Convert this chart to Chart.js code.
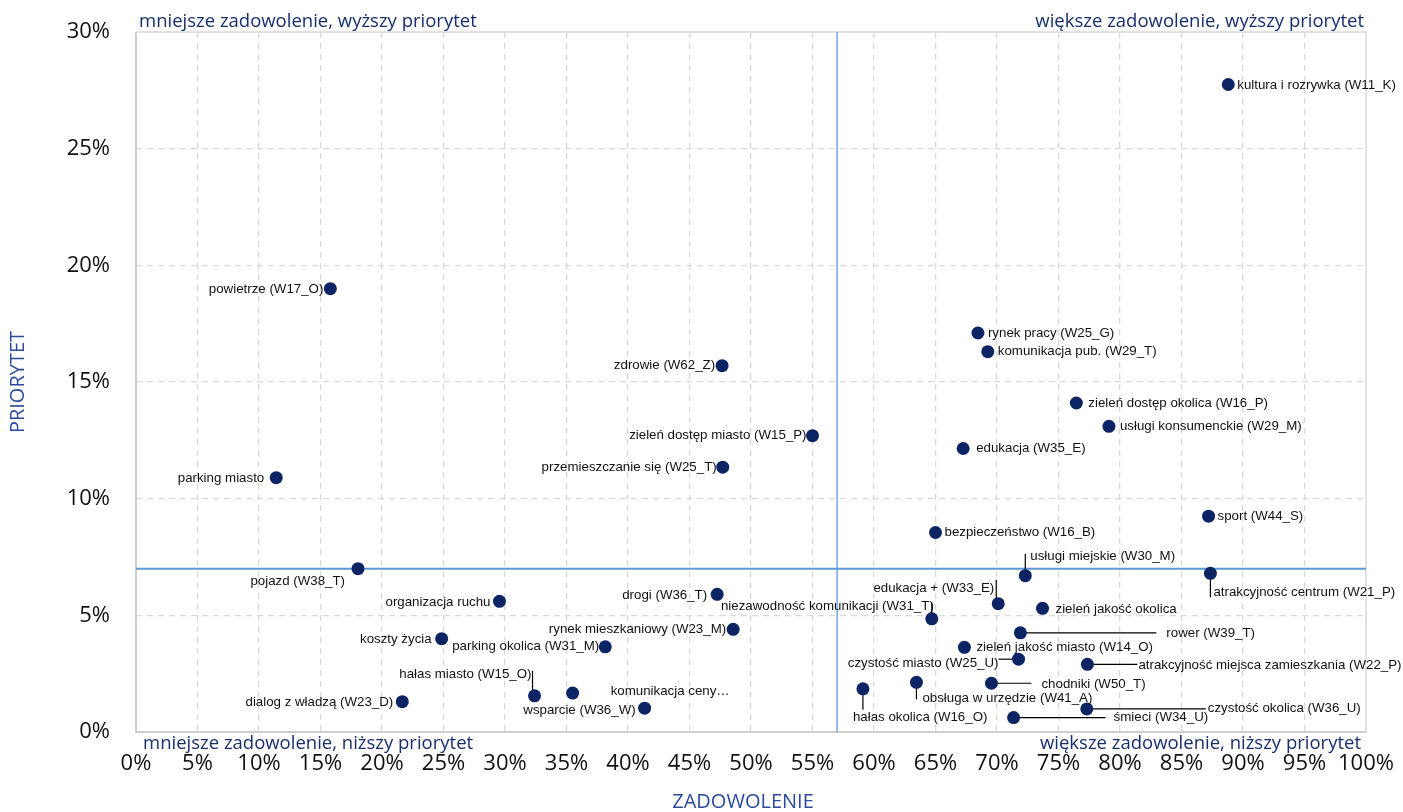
<!DOCTYPE html>
<html>
<head>
<meta charset="utf-8">
<script src="https://cdn.jsdelivr.net/npm/chart.js@4.4.1/dist/chart.umd.min.js"></script>
<style>
  html, body { margin: 0; padding: 0; background: #ffffff; }
  #wrap { width: 1403px; height: 812px; position: relative; }
</style>
</head>
<body>
<div id="wrap"><canvas id="c" width="1403" height="812"></canvas></div>
<script>
// ---- data ----
const CATEGORIES = [
  'kultura i rozrywka (W11_K)', 'powietrze (W17_O)', 'parking miasto', 'zdrowie (W62_Z)',
  'zieleń dostęp miasto (W15_P)', 'przemieszczanie się (W25_T)', 'rynek pracy (W25_G)',
  'komunikacja pub. (W29_T)', 'zieleń dostęp okolica (W16_P)', 'usługi konsumenckie (W29_M)',
  'edukacja (W35_E)', 'sport (W44_S)', 'bezpieczeństwo (W16_B)', 'pojazd (W38_T)',
  'usługi miejskie (W30_M)', 'atrakcyjność centrum (W21_P)', 'drogi (W36_T)', 'organizacja ruchu',
  'edukacja + (W33_E)', 'zieleń jakość okolica', 'niezawodność komunikacji (W31_T)',
  'rynek mieszkaniowy (W23_M)', 'rower (W39_T)', 'koszty życia', 'parking okolica (W31_M)',
  'zieleń jakość miasto (W14_O)', 'czystość miasto (W25_U)',
  'atrakcyjność miejsca zamieszkania (W22_P)', 'chodniki (W50_T)', 'obsługa w urzędzie (W41_A)',
  'hałas okolica (W16_O)', 'czystość okolica (W36_U)', 'śmieci (W34_U)', 'hałas miasto (W15_O)',
  'komunikacja ceny…', 'wsparcie (W36_W)', 'dialog z władzą (W23_D)'
];
const SATISFACTION = [
  88.8, 15.8, 11.4, 47.65, 55.0, 47.7, 68.45, 69.25, 76.45, 79.1,
  67.25, 87.2, 65.0, 18.05, 72.3, 87.35, 47.25, 29.55, 70.1, 73.7,
  64.7, 48.55, 71.9, 24.85, 38.15, 67.35, 71.75, 77.35, 69.55, 63.45,
  59.1, 77.3, 71.35, 32.4, 35.5, 41.35, 21.65
];
const PRIORITY = [
  27.75, 19.0, 10.9, 15.7, 12.7, 11.35, 17.1, 16.3, 14.1, 13.1,
  12.15, 9.25, 8.55, 7.0, 6.7, 6.8, 5.9, 5.6, 5.5, 5.3,
  4.85, 4.4, 4.25, 4.0, 3.65, 3.63, 3.12, 2.9, 2.09, 2.13,
  1.85, 0.99, 0.62, 1.55, 1.67, 1.02, 1.3
];
const X_TICKS = [0,5,10,15,20,25,30,35,40,45,50,55,60,65,70,75,80,85,90,95,100];
const Y_TICKS = [0,5,10,15,20,25,30];
const THRESHOLD_X = 57;
const THRESHOLD_Y = 7;
const QUADRANTS = {
  topLeft: 'mniejsze zadowolenie, wyższy priorytet',
  topRight: 'większe zadowolenie, wyższy priorytet',
  bottomLeft: 'mniejsze zadowolenie, niższy priorytet',
  bottomRight: 'większe zadowolenie, niższy priorytet'
};
const X_TITLE = 'ZADOWOLENIE';
const Y_TITLE = 'PRIORYTET';

// ---- label layout (pixel offsets from each point; align; optional leader line) ----
const LABEL_LAYOUT = [
  ['left', 9, 1], ['right', -7, 1], ['right', -12, 1], ['right', -7, 0],
  ['right', -6, 0], ['right', -6, 0], ['left', 10, 0], ['left', 10, 0],
  ['left', 12, 0], ['left', 11, 0], ['left', 13, 0], ['left', 9, 0],
  ['left', 9, 0], ['right', -13, 13],
  ['left', 5, -19, [0,-22,0,0]], ['left', 3, 19, [0,0,0,24]],
  ['right', -10, 1], ['right', -9, 1],
  ['right', -4, -15, [-2,-24,-2,0]], ['left', 13, 1],
  ['right', 2, -12, [0,-16,0,0]], ['right', -7, 0],
  ['left', 146, 1, [0,0,136,0]], ['right', -10, 1], ['right', -6, 0],
  ['left', 12, 0], ['right', -20, 4, [-20,0,0,0]],
  ['left', 51, 1, [0,0,50,0]], ['left', 50, 1, [0,0,40,0]],
  ['left', 6, 16, [0,0,0,17]], ['left', -10, 29, [0,0,0,21]],
  ['left', 121, -1, [0,0,119,0]], ['left', 100, 0, [0,0,92,0]],
  ['right', -3, -21, [-2,-25,-2,0]], ['left', 38, -2],
  ['right', -9, 2], ['right', -9, 1]
];

const POINTS = SATISFACTION.map((x, i) => ({ x: x, y: PRIORITY[i] }));

const NAVY = '#0c2463';
const QUAD_COLOR = '#182f6e';
const TITLE_COLOR = '#2a4b9b';
const REF_COLOR = '#5b9bd5';
const TICK_FONT = { family: 'Open Sans', size: 22 };

const annotationPlugin = {
  id: 'annotations',
  beforeDatasetsDraw(chart) {
    const { ctx, chartArea: a, scales: { x, y } } = chart;
    ctx.save();
    // frame
    ctx.lineWidth = 1.5;
    ctx.strokeStyle = '#d9d9d9';
    ctx.beginPath();
    ctx.moveTo(a.left, a.top); ctx.lineTo(a.right, a.top); ctx.lineTo(a.right, a.bottom);
    ctx.stroke();
    ctx.strokeStyle = '#bfbfbf';
    ctx.beginPath();
    ctx.moveTo(a.left, a.top); ctx.lineTo(a.left, a.bottom); ctx.lineTo(a.right, a.bottom);
    ctx.stroke();
    // reference lines
    const px = x.getPixelForValue(THRESHOLD_X);
    const py = y.getPixelForValue(THRESHOLD_Y);
    ctx.strokeStyle = REF_COLOR;
    ctx.lineWidth = 1.3;
    ctx.beginPath(); ctx.moveTo(px, a.top); ctx.lineTo(px, a.bottom); ctx.stroke();
    ctx.lineWidth = 2;
    ctx.beginPath(); ctx.moveTo(a.left, py); ctx.lineTo(a.right, py); ctx.stroke();
    // leader lines
    ctx.strokeStyle = '#000000';
    ctx.lineWidth = 1.2;
    POINTS.forEach((p, i) => {
      const L = LABEL_LAYOUT[i][3];
      if (!L) return;
      const cx = x.getPixelForValue(p.x), cy = y.getPixelForValue(p.y);
      ctx.beginPath();
      ctx.moveTo(cx + L[0], cy + L[1]);
      ctx.lineTo(cx + L[2], cy + L[3]);
      ctx.stroke();
    });
    ctx.restore();
  },
  afterDatasetsDraw(chart) {
    const { ctx, chartArea: a, scales: { x, y } } = chart;
    ctx.save();
    // point labels
    ctx.font = '13.3px "Liberation Sans", Arial, sans-serif';
    ctx.fillStyle = '#111111';
    ctx.textBaseline = 'middle';
    POINTS.forEach((p, i) => {
      const [align, dx, dy] = LABEL_LAYOUT[i];
      const cx = x.getPixelForValue(p.x), cy = y.getPixelForValue(p.y);
      ctx.textAlign = align;
      ctx.fillText(CATEGORIES[i], cx + dx, cy + dy);
    });
    // quadrant labels
    ctx.font = '18.5px "Open Sans", sans-serif';
    ctx.fillStyle = QUAD_COLOR;
    ctx.textAlign = 'left';
    ctx.fillText(QUADRANTS.topLeft, a.left + 3, a.top - 10);
    ctx.fillText(QUADRANTS.bottomLeft, a.left + 7, a.bottom + 12);
    ctx.textAlign = 'right';
    ctx.fillText(QUADRANTS.topRight, a.right - 2, a.top - 10);
    ctx.fillText(QUADRANTS.bottomRight, a.right - 5, a.bottom + 12);
    // axis titles
    ctx.font = '20px "Open Sans", sans-serif';
    ctx.fillStyle = TITLE_COLOR;
    ctx.textAlign = 'center';
    ctx.fillText(X_TITLE, (a.left + a.right) / 2 - 8, 802);
    ctx.translate(18, (a.top + a.bottom) / 2);
    ctx.rotate(-Math.PI / 2);
    ctx.fillText(Y_TITLE, 0, 0);
    ctx.restore();
  }
};

const hideEdge = (edges) => (c) => (c.tick && edges.includes(c.tick.value)) ? 'rgba(0,0,0,0)' : '#d9d9d9';

new Chart(document.getElementById('c'), {
  type: 'scatter',
  data: {
    datasets: [{
      data: POINTS,
      backgroundColor: NAVY,
      borderColor: NAVY,
      pointRadius: 6.5,
      pointHoverRadius: 6.5,
      borderWidth: 0
    }]
  },
  options: {
    responsive: false,
    animation: false,
    events: [],
    layout: { padding: { top: 32, right: 37, left: 0, bottom: 0 } },
    plugins: { legend: { display: false }, tooltip: { enabled: false } },
    scales: {
      x: {
        type: 'linear', min: 0, max: 100,
        afterBuildTicks: (s) => { s.ticks = X_TICKS.map(v => ({ value: v })); },
        afterFit: (s) => { s.height = 80; s.paddingLeft = 0; s.paddingRight = 0; },
        ticks: {
          autoSkip: false, maxRotation: 0, minRotation: 0, padding: 19,
          color: '#111111', font: TICK_FONT,
          callback: (v) => v + '%'
        },
        grid: { color: hideEdge([0, 100]), lineWidth: 1.3, drawTicks: false },
        border: { display: false, dash: [6, 5] }
      },
      y: {
        type: 'linear', min: 0, max: 30,
        afterBuildTicks: (s) => { s.ticks = Y_TICKS.map(v => ({ value: v })); },
        afterFit: (s) => { s.width = 136; s.paddingTop = 0; s.paddingBottom = 0; },
        ticks: {
          autoSkip: false, padding: 26,
          color: '#111111', font: TICK_FONT,
          callback: (v) => v + '%'
        },
        grid: { color: hideEdge([0, 30]), lineWidth: 1.3, drawTicks: false },
        border: { display: false, dash: [6, 5] }
      }
    }
  },
  plugins: [annotationPlugin]
});
</script>
</body>
</html>
